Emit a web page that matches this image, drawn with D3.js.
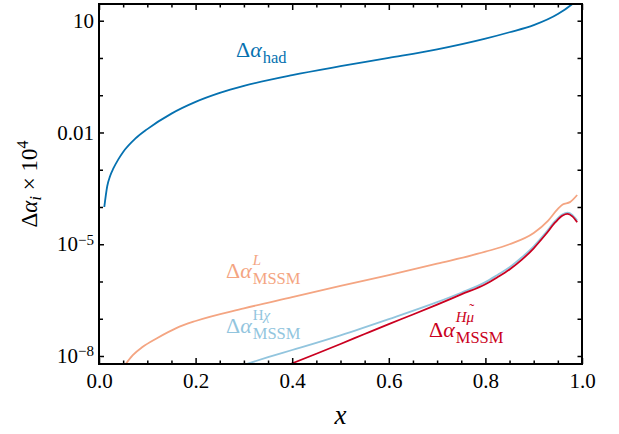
<!DOCTYPE html>
<html>
<head>
<meta charset="utf-8">
<script src="https://cdn.jsdelivr.net/npm/d3@7"></script>
<style>
  html, body { margin: 0; padding: 0; background: #fff; }
</style>
</head>
<body>
<div id="app"></div>
<script>
// values (x, Delta alpha_i x 10^4)
const hadX = [0.011, 0.017, 0.023, 0.03, 0.04, 0.05, 0.075, 0.1, 0.15, 0.2, 0.25, 0.3, 0.4, 0.5, 0.6, 0.7, 0.8, 0.85, 0.9, 0.95, 0.98, 1.0];
const hadY = [1.0e-4, 3.6e-4, 6.8e-4, 1.1e-3, 1.9e-3, 3.0e-3, 6.8e-3, 1.23e-2, 3.2e-2, 6.6e-2, 0.115, 0.178, 0.347, 0.60, 1.0, 1.70, 3.3, 4.9, 7.6, 15.1, 28.2, 49];

const lX = [0.055, 0.07, 0.09, 0.12, 0.16, 0.2, 0.3, 0.4, 0.5, 0.6, 0.7, 0.8, 0.85, 0.9, 0.93, 0.95, 0.96, 0.975, 0.99];
const lY = [6.0e-9, 1.05e-8, 1.74e-8, 3.0e-8, 5.6e-8, 8.7e-8, 1.9e-7, 3.8e-7, 7.6e-7, 1.48e-6, 3.0e-6, 6.3e-6, 1.0e-5, 2.0e-5, 4.3e-5, 8.9e-5, 1.17e-4, 1.35e-4, 2.1e-4];

const hchiX = [0.3, 0.35, 0.4, 0.5, 0.6, 0.7, 0.75, 0.8, 0.825, 0.85, 0.875, 0.9, 0.925, 0.945, 0.96, 0.97, 0.98, 0.99];
const hchiY = [5.8e-9, 9.3e-9, 1.45e-8, 3.6e-8, 9.8e-8, 2.8e-7, 5.0e-7, 9.6e-7, 1.5e-6, 2.4e-6, 4.4e-6, 8.8e-6, 2.05e-5, 4.3e-5, 6.4e-5, 7.0e-5, 6.1e-5, 4.3e-5];

const hmuX = [0.395, 0.45, 0.5, 0.55, 0.6, 0.65, 0.7, 0.75, 0.8, 0.825, 0.85, 0.875, 0.9, 0.925, 0.945, 0.96, 0.97, 0.98, 0.99];
const hmuY = [6.0e-9, 1.15e-8, 2.1e-8, 3.9e-8, 7.2e-8, 1.3e-7, 2.4e-7, 4.5e-7, 8.4e-7, 1.3e-6, 2.1e-6, 3.8e-6, 7.8e-6, 1.85e-5, 3.9e-5, 5.9e-5, 6.5e-5, 5.6e-5, 3.9e-5];

const xTicks = [0, 0.2, 0.4, 0.6, 0.8, 1.0];
const xMinorTicks = [0.05, 0.1, 0.15, 0.25, 0.3, 0.35, 0.45, 0.5, 0.55, 0.65, 0.7, 0.75, 0.85, 0.9, 0.95];
const yTicks = [1e1, 1e-2, 1e-5, 1e-8];
const yTickLabels = [['10', ''], ['0.01', ''], ['10', '\u22125'], ['10', '\u22128']];
const yMinorTicks = [1e0, 1e-1, 1e-3, 1e-4, 1e-6, 1e-7];

(() => {
  const W = 619;
  const H = 434;
  const left = 99;
  const right = 582;
  const top = 4;
  const bottom = 364;
  const serif = '"Liberation Serif", "DejaVu Serif"';
  const colors = { had: '#0571b0', L: '#f4a582', hchi: '#92c5de', hmu: '#ca0020' };

  const svg = d3.select('#app')
    .append('svg')
    .attr('width', W)
    .attr('height', H)
    .style('font-family', serif);

  const x = d3.scaleLinear().domain([0, 1]).range([left, right]);
  const y = d3.scaleLog().domain([6.1e-9, 28.1]).range([bottom, top]);

  svg.append('defs').append('clipPath')
    .attr('id', 'plot-clip')
    .append('rect')
    .attr('x', left)
    .attr('y', top)
    .attr('width', right - left)
    .attr('height', bottom - top);

  const line = d3.line()
    .x(d => x(d[0]))
    .y(d => y(d[1]))
    .curve(d3.curveMonotoneX);

  const series = [
    { xs: hadX, ys: hadY, color: colors.had },
    { xs: lX, ys: lY, color: colors.L },
    { xs: hchiX, ys: hchiY, color: colors.hchi },
    { xs: hmuX, ys: hmuY, color: colors.hmu },
  ];

  const plot = svg.append('g').attr('clip-path', 'url(#plot-clip)');
  plot.selectAll('path')
    .data(series)
    .enter()
    .append('path')
    .attr('d', s => line(s.xs.map((v, i) => [v, s.ys[i]])))
    .attr('fill', 'none')
    .attr('stroke', s => s.color)
    .attr('stroke-width', 1.8);

  // axes, ticks point inwards on all four sides
  const styleAxis = (g) => {
    g.attr('font-family', null).attr('font-size', null);
    g.select('.domain').remove();
    g.selectAll('line').attr('stroke', '#000').attr('stroke-width', 1.5);
    g.selectAll('text')
      .style('font-family', serif)
      .attr('font-size', 21)
      .attr('fill', '#000');
  };

  svg.append('g')
    .attr('transform', `translate(0,${bottom})`)
    .call(d3.axisBottom(x).tickValues(xTicks).tickSize(-6).tickPadding(9).tickFormat(d3.format('.1f')))
    .call(styleAxis);
  svg.append('g')
    .attr('transform', `translate(0,${bottom})`)
    .call(d3.axisBottom(x).tickValues(xMinorTicks).tickSize(-3.5).tickFormat(''))
    .call(styleAxis);
  svg.append('g')
    .attr('transform', `translate(0,${top})`)
    .call(d3.axisTop(x).tickValues(xTicks).tickSize(-6).tickFormat(''))
    .call(styleAxis);
  svg.append('g')
    .attr('transform', `translate(0,${top})`)
    .call(d3.axisTop(x).tickValues(xMinorTicks).tickSize(-3.5).tickFormat(''))
    .call(styleAxis);

  const yAxis = svg.append('g')
    .attr('transform', `translate(${left},0)`)
    .call(d3.axisLeft(y).tickValues(yTicks).tickSize(-5).tickPadding(5).tickFormat(''))
    .call(styleAxis);
  yAxis.selectAll('.tick text')
    .attr('dy', '0.32em')
    .each(function (d, i) {
      const t = d3.select(this);
      t.append('tspan').text(yTickLabels[i][0]);
      if (yTickLabels[i][1]) {
        t.append('tspan').attr('dy', '-0.45em').attr('font-size', 15).text(yTickLabels[i][1]);
      }
    });
  svg.append('g')
    .attr('transform', `translate(${left},0)`)
    .call(d3.axisLeft(y).tickValues(yMinorTicks).tickSize(-4).tickFormat(''))
    .call(styleAxis);
  svg.append('g')
    .attr('transform', `translate(${right},0)`)
    .call(d3.axisRight(y).tickValues(yTicks.concat(yMinorTicks)).tickSize(-4.5).tickFormat(''))
    .call(styleAxis);

  // frame
  svg.append('rect')
    .attr('x', left)
    .attr('y', top)
    .attr('width', right - left)
    .attr('height', bottom - top)
    .attr('fill', 'none')
    .attr('stroke', '#000')
    .attr('stroke-width', 2);

  // axis titles
  svg.append('text')
    .attr('x', (left + right) / 2)
    .attr('y', 424)
    .attr('text-anchor', 'middle')
    .attr('font-size', 27)
    .attr('font-style', 'italic')
    .text('x');

  const yTitle = svg.append('text')
    .attr('transform', 'translate(37,184) rotate(-90)')
    .attr('text-anchor', 'middle')
    .attr('font-size', 23);
  yTitle.append('tspan').text('\u0394');
  yTitle.append('tspan').attr('font-style', 'italic').text('\u03b1');
  yTitle.append('tspan').attr('font-style', 'italic').attr('font-size', 17).attr('dy', 4).text('i');
  yTitle.append('tspan').attr('dy', -4).text(' \u00d7 10');
  yTitle.append('tspan').attr('font-size', 16).attr('dy', -9).text('4');

  // curve labels: Δα with stacked superscript / subscript
  const addLabel = (px, py, color, sup, sub, supShift = 13) => {
    const g = svg.append('g').attr('fill', color);
    const main = g.append('text')
      .attr('x', px)
      .attr('y', py)
      .attr('font-size', 22);
    main.append('tspan').text('\u0394');
    main.append('tspan').attr('font-style', 'italic').text('\u03b1');
    const w = main.node().getComputedTextLength();
    if (sup) {
      const st = g.append('text')
        .attr('x', px + w + 1)
        .attr('y', py - supShift)
        .attr('font-size', 15);
      sup.forEach((p) => {
        const ts = st.append('tspan').attr('font-style', p[1] ? 'italic' : 'normal').text(p[0]);
        if (p[2]) {
          // tilde accent over the previous symbol, kept in the same text
          const cw = ts.node().getComputedTextLength();
          const tl = st.append('tspan').attr('font-style', 'normal').attr('dy', -8).text('\u02dc');
          const tw = tl.node().getComputedTextLength();
          tl.attr('dx', -(cw + tw) / 2 + 1.5);
        }
      });
    }
    g.append('text')
      .attr('x', px + w + 1)
      .attr('y', py + 6)
      .attr('font-size', 16.5)
      .text(sub);
  };

  addLabel(236, 57, colors.had, null, 'had');
  addLabel(226, 278, colors.L, [['L', true]], 'MSSM');
  addLabel(226, 333, colors.hchi, [['H', false], ['\u03c7', true]], 'MSSM');
  addLabel(429, 337, colors.hmu, [['H', true], ['\u03bc', true, true]], 'MSSM', 15);
})();
</script>
</body>
</html>
